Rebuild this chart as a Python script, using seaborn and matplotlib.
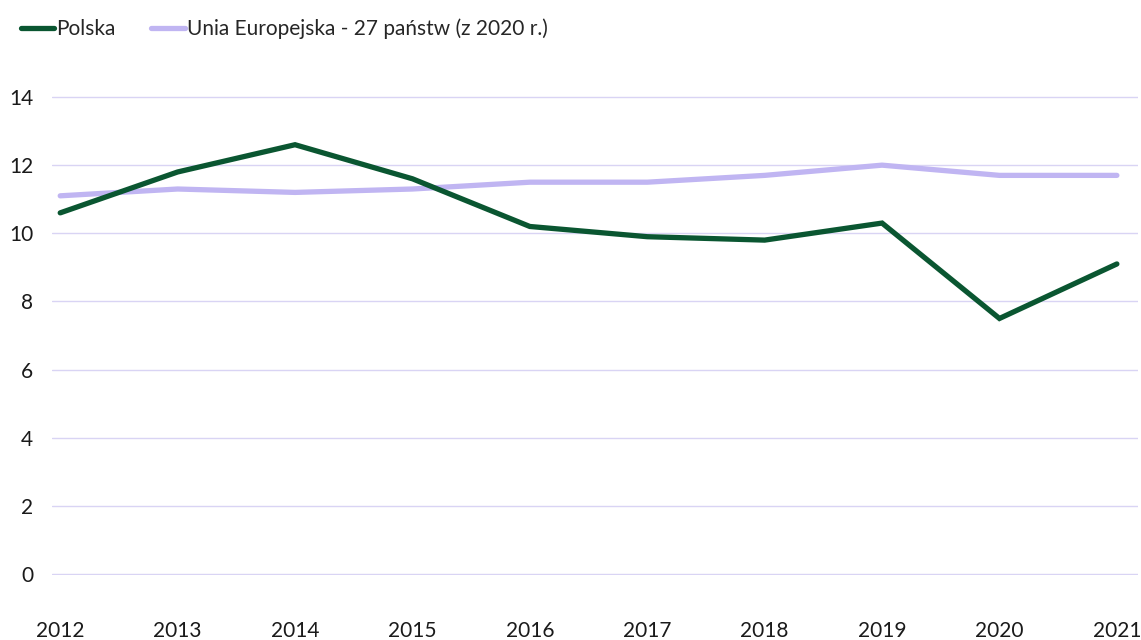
import pandas as pd
import matplotlib.pyplot as plt
import seaborn as sns

# Values
years = [2012, 2013, 2014, 2015, 2016, 2017, 2018, 2019, 2020, 2021]
polska = [10.6, 11.8, 12.6, 11.6, 10.2, 9.9, 9.8, 10.3, 7.5, 9.1]
ue27 = [11.1, 11.3, 11.2, 11.3, 11.5, 11.5, 11.7, 12.0, 11.7, 11.7]
series_names = ["Polska", "Unia Europejska - 27 państw (z 2020 r.)"]
y_ticks = [0, 2, 4, 6, 8, 10, 12, 14]

df = pd.DataFrame({
    "rok": years * 2,
    "wartosc": polska + ue27,
    "seria": [series_names[0]] * len(years) + [series_names[1]] * len(years),
})

sns.set_theme(style="white")
plt.rcParams["font.family"] = ["Lato", "DejaVu Sans"]

fig = plt.figure(figsize=(11.41, 6.4), dpi=100)
ax = fig.add_axes([52 / 1141, (640 - 575) / 640, (1138 - 52) / 1141, (575 - 96) / 640])

palette = {series_names[0]: "#0a5631", series_names[1]: "#c0b5f2"}
sns.lineplot(data=df, x="rok", y="wartosc", hue="seria", palette=palette,
             hue_order=series_names[::-1], linewidth=3.8, ax=ax, legend=False,
             solid_capstyle="round", solid_joinstyle="miter")

ax.set_xlim(2012 - 0.07, 2021 + 0.18)
ax.set_ylim(-0.03, 14.03)
ax.set_yticks(y_ticks)
ax.set_xticks(years)
ax.grid(axis="y", color="#d9d4f4", linewidth=1)
ax.set_axisbelow(True)
for s in ax.spines.values():
    s.set_visible(False)
ax.tick_params(axis="y", length=0, pad=13.5, labelsize=15, labelcolor="#1a1a1a")
ax.tick_params(axis="x", length=0, pad=33, labelsize=15, labelcolor="#1a1a1a")
ax.set_xlabel("")
ax.set_ylabel("")

handles = [plt.Line2D([], [], color=palette[n], linewidth=3.8, solid_capstyle="round")
           for n in series_names]
fig.legend(handles, series_names, loc="upper left", bbox_to_anchor=(0.002, 1.0),
           ncol=2, frameon=False, fontsize=15, handlelength=1.6,
           handletextpad=0.1, columnspacing=1.7)

fig.savefig("out.png", dpi=100)
